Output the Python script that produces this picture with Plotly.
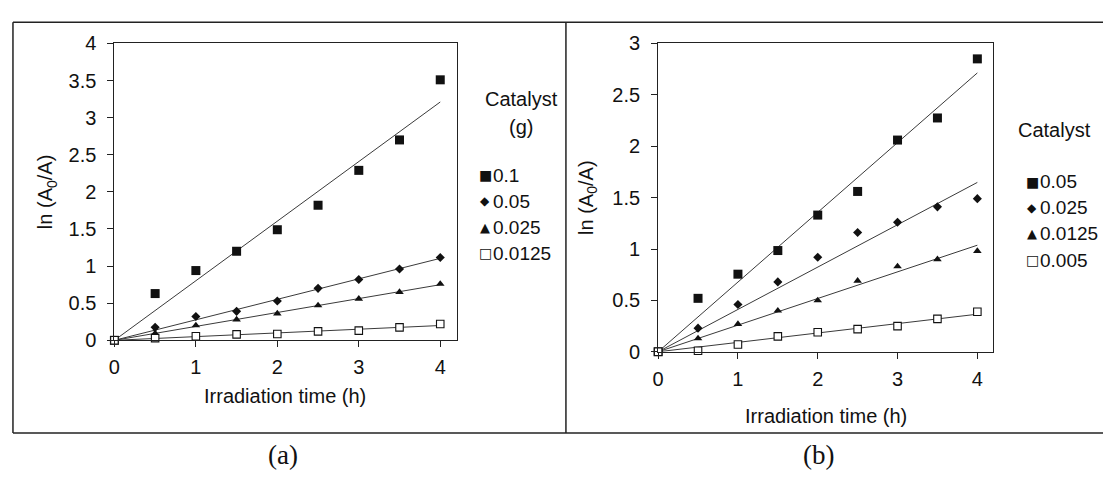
import numpy as np
import plotly.graph_objects as go

# Irradiation time (h)
time_h = [0, 0.5, 1, 1.5, 2, 2.5, 3, 3.5, 4]

# Panel (a): catalyst mass (g)
a_labels = ["0.1", "0.05", "0.025", "0.0125"]
a_010 = [0, 0.63, 0.94, 1.20, 1.49, 1.82, 2.29, 2.70, 3.51]
a_005 = [0, 0.175, 0.32, 0.39, 0.53, 0.70, 0.82, 0.96, 1.115]
a_0025 = [0, 0.094, 0.20, 0.28, 0.36, 0.47, 0.56, 0.65, 0.76]
a_00125 = [0, 0.03, 0.055, 0.08, 0.085, 0.12, 0.13, 0.175, 0.22]

# Panel (b): catalyst
b_labels = ["0.05", "0.025", "0.0125", "0.005"]
b_005 = [0, 0.52, 0.755, 0.985, 1.33, 1.56, 2.06, 2.275, 2.85]
b_0025 = [0, 0.23, 0.46, 0.68, 0.92, 1.16, 1.26, 1.41, 1.49]
b_00125 = [0, 0.13, 0.27, 0.40, 0.50, 0.69, 0.83, 0.90, 0.98]
b_0005 = [0, 0.01, 0.07, 0.15, 0.19, 0.22, 0.25, 0.32, 0.39]

x_ticks = [0, 1, 2, 3, 4]
a_y_ticks = [0, 0.5, 1, 1.5, 2, 2.5, 3, 3.5, 4]
b_y_ticks = [0, 0.5, 1, 1.5, 2, 2.5, 3]

W, H = 1103, 484
FONT = "Liberation Sans, Arial, sans-serif"
SERIF = "Liberation Serif, Times New Roman, serif"
INK = "#111111"
LINE = "#3a3a3a"


def px(x):
    return x / W


def py(y):
    return 1 - y / H


# marker style per series rank (largest loading first)
symbols = [
    dict(symbol="square", size=9, color=INK, line=dict(width=0)),
    dict(symbol="diamond", size=7, color=INK, line=dict(width=0)),
    dict(symbol="triangle-up", size=7.5, color=INK, line=dict(width=0)),
    dict(symbol="square", size=7.5, color="white", line=dict(width=1.1, color=INK)),
]
glyphs = ["■", "◆", "▲", "□"]
glyph_sizes = [14, 12, 13, 14]

fig = go.Figure()


def add_panel(series, xa, ya):
    t = np.array(time_h, dtype=float)
    for vals in series:
        v = np.array(vals, dtype=float)
        # linear fit forced through the origin
        k = float(np.sum(t * v) / np.sum(t * t))
        fig.add_trace(go.Scatter(
            x=[t[0], t[-1]], y=[k * t[0], k * t[-1]], mode="lines",
            line=dict(color=LINE, width=1), xaxis=xa, yaxis=ya,
            showlegend=False, hoverinfo="skip"))
    for vals, sym in zip(series, symbols):
        fig.add_trace(go.Scatter(
            x=time_h, y=vals, mode="markers", marker=sym,
            xaxis=xa, yaxis=ya, showlegend=False, cliponaxis=False))


add_panel([a_010, a_005, a_0025, a_00125], "x", "y")
add_panel([b_005, b_0025, b_00125, b_0005], "x2", "y2")

axis_common = dict(
    showline=True, mirror=True, linecolor="#222", linewidth=1,
    ticks="outside", ticklen=6, tickcolor="#222", tickwidth=1,
    showgrid=False, zeroline=False,
    tickfont=dict(family=FONT, size=20, color=INK),
)

fig.update_layout(
    width=W, height=H,
    margin=dict(l=0, r=0, t=0, b=0),
    paper_bgcolor="white", plot_bgcolor="white",
    xaxis=dict(domain=[px(109), px(453)], range=[0, 4.2], ticklabelstandoff=3,
               tickvals=x_ticks, anchor="y", **axis_common),
    yaxis=dict(domain=[py(345), py(34)], range=[0, 4], ticklabelstandoff=7,
               tickvals=a_y_ticks, anchor="x", **axis_common),
    xaxis2=dict(domain=[px(655.7), px(992.7)], range=[0, 4.2], ticklabelstandoff=3,
                tickvals=x_ticks, anchor="y2", **axis_common),
    yaxis2=dict(domain=[py(357), py(34)], range=[0, 3], ticklabelstandoff=7,
                tickvals=b_y_ticks, anchor="x2", **axis_common),
)

annotations = []


def text(x, y, s, size=20, angle=0, xanchor="center", family=FONT):
    annotations.append(dict(
        x=px(x), y=py(y), xref="paper", yref="paper", text=s,
        showarrow=False, textangle=angle, xanchor=xanchor, yanchor="middle",
        font=dict(family=family, size=size, color=INK)))


ytitle = "ln (A<sub>0</sub>/A)"
# axis titles
text(281, 403, "Irradiation time (h)")
text(41, 190, ytitle, angle=-90)
text(824, 424, "Irradiation time (h)")
text(584, 196, ytitle, angle=-90)


def legend(x_mark, x_title, y_title, title_lines, y0, labels):
    for j, line in enumerate(title_lines):
        text(x_title, y_title + 30 * j, line, size=20)
    for i, lab in enumerate(labels):
        y = y0 + 27.3 * i
        text(x_mark, y, glyphs[i], size=glyph_sizes[i], family="DejaVu Sans")
        text(x_mark + 6, y, lab, size=19, xanchor="left")


legend(482, 518, 92, ["Catalyst", "(g)"], 172, a_labels)
legend(1032, 1054, 125, ["Catalyst"], 179, b_labels)

# panel captions
text(279, 465, "(a)", size=27, family=SERIF)
text(817, 465, "(b)", size=27, family=SERIF)

fig.update_layout(annotations=annotations)

# outer frame and divider
frame = dict(color="#222", width=1.5)
fig.update_layout(shapes=[
    dict(type="line", xref="paper", yref="paper", x0=px(7), x1=1.0,
         y0=py(11.7), y1=py(11.7), line=frame),
    dict(type="line", xref="paper", yref="paper", x0=px(7), x1=1.0,
         y0=py(442), y1=py(442), line=frame),
    dict(type="line", xref="paper", yref="paper", x0=px(7), x1=px(7),
         y0=py(11.7), y1=py(442), line=frame),
    dict(type="line", xref="paper", yref="paper", x0=px(563), x1=px(563),
         y0=py(11.7), y1=py(442), line=frame),
])

fig.write_html("out.html")
